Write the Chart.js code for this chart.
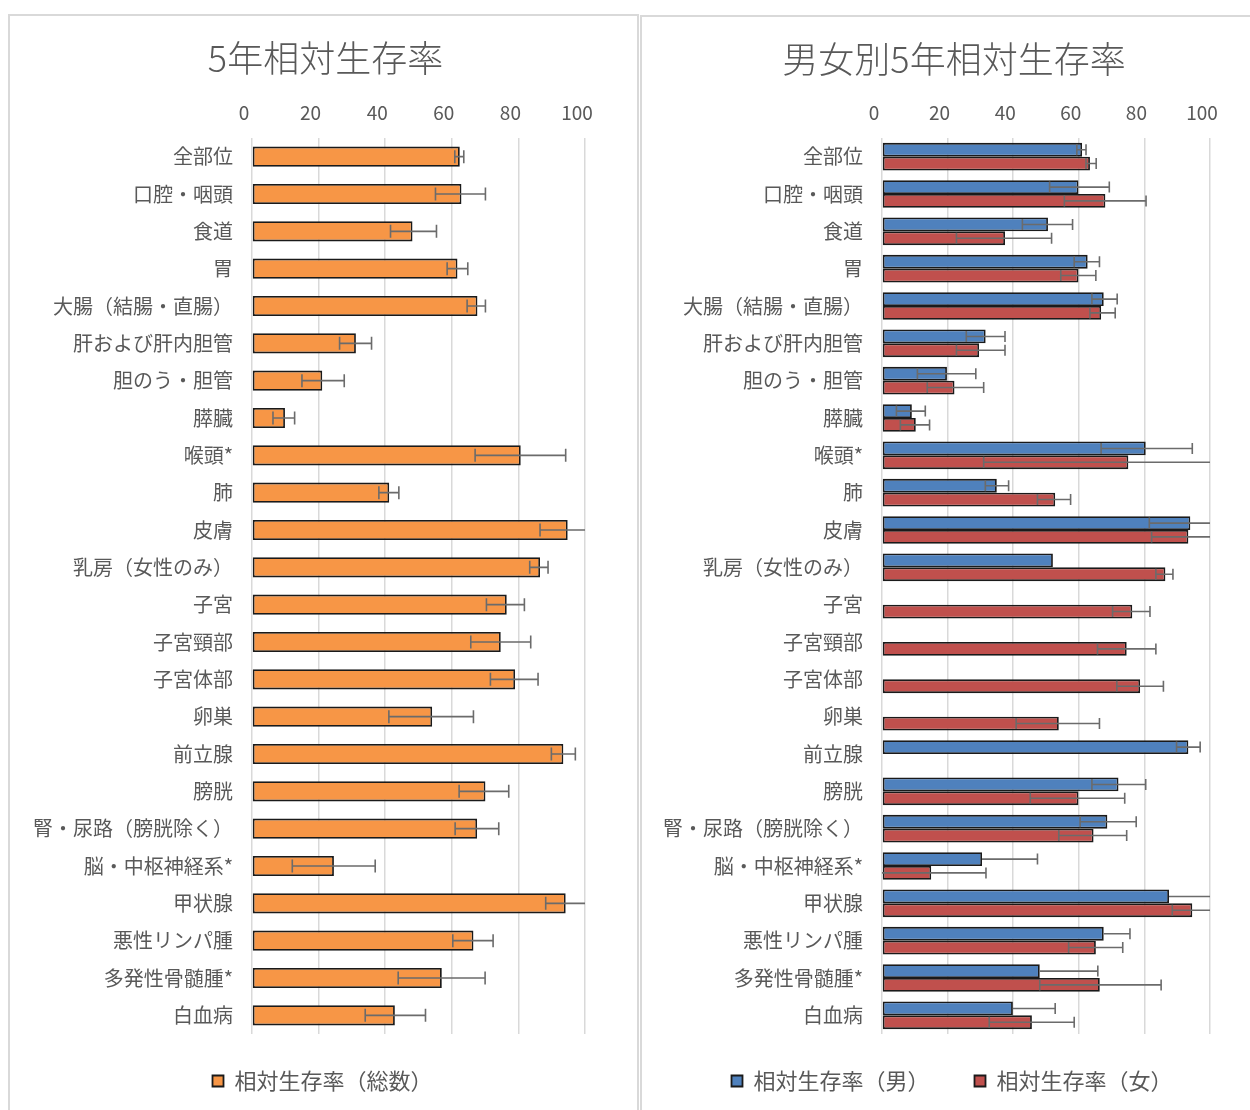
<!DOCTYPE html>
<html>
<head>
<meta charset="utf-8">
<script src="https://cdn.jsdelivr.net/npm/chart.js@4"></script>
<style>
  html, body { margin: 0; padding: 0; background: #fff; }
  body { width: 1250px; height: 1110px; overflow: hidden; position: relative; }
  .panel { position: absolute; border: 2px solid #d9d9d9; background: #fff; }
  #p1 { left: 8px; top: 14px; width: 627px; height: 1100px; }
  #p2 { left: 640px; top: 15px; width: 620px; height: 1100px; }
  canvas { display: block; }
</style>
</head>
<body>
<div class="panel" id="p1"><canvas id="totalChart" width="627" height="1095"></canvas></div>
<div class="panel" id="p2"><canvas id="sexChart" width="608" height="1094"></canvas></div>
<script>
const sites = ['全部位', '口腔・咽頭', '食道', '胃', '大腸（結腸・直腸）', '肝および肝内胆管', '胆のう・胆管', '膵臓',
  '喉頭*', '肺', '皮膚', '乳房（女性のみ）', '子宮', '子宮頸部', '子宮体部', '卵巣', '前立腺', '膀胱',
  '腎・尿路（膀胱除く）', '脳・中枢神経系*', '甲状腺', '悪性リンパ腫', '多発性骨髄腫*', '白血病'];

// 5年相対生存率（総数）と信頼区間
const total     = [62.4, 62.9, 48.2, 61.7, 67.7, 31.2, 21.1, 9.9, 80.7, 41.2, 94.8, 86.5, 76.5, 74.7, 79.0, 54.1, 93.5, 70.1, 67.6, 24.6, 94.2, 66.5, 57.0, 42.9];
const totalLow  = [60.9, 55.1, 41.6, 58.6, 64.6, 26.3, 15.0, 6.3, 67.0, 38.1, 86.5, 83.4, 70.4, 65.7, 71.6, 41.1, 89.9, 62.2, 61.0, 12.1, 88.2, 60.3, 43.9, 34.0];
const totalHigh = [63.6, 70.1, 55.4, 64.8, 70.1, 35.9, 27.7, 12.8, 94.2, 44.1, 103, 88.9, 81.8, 83.7, 85.9, 66.5, 97.1, 77.1, 74.1, 37.0, 103, 72.4, 70.0, 52.1];

// 男
const male     = [61.0, 59.9, 50.6, 62.7, 67.6, 31.6, 19.8, 9.1, 80.4, 35.0, 94.0, 52.1, null, null, null, null, 93.4, 72.1, 68.7, 30.5, 87.5, 67.6, 48.1, 39.9];
const maleLow  = [59.4, 51.1, 42.8, 58.6, 64.0, 25.7, 10.8, 4.4, 66.8, 31.5, 81.5, null, null, null, null, null, 89.8, 64.0, 60.4, null, null, null, null, null];
const maleHigh = [62.2, 69.3, 58.1, 66.3, 71.7, 37.5, 28.6, 13.2, 94.6, 38.6, 103, null, null, null, null, null, 97.0, 80.4, 77.5, 47.4, 103, 75.6, 65.8, 52.8];

// 女
const female     = [63.4, 68.1, 37.5, 59.9, 66.8, 29.6, 22.1, 10.3, 75.1, 52.8, 93.4, 86.4, 76.3, 74.6, 78.7, 53.9, null, 59.9, 64.5, 15.0, 94.6, 65.2, 66.4, 45.7];
const femaleLow  = [62.2, 55.6, 22.7, 54.5, 63.4, 22.7, 13.8, 5.6, 31.0, 47.4, 82.2, 83.5, 70.3, 65.7, 71.6, 40.9, null, 45.2, 53.9, -3, 88.5, 56.9, 48.1, 32.7];
const femaleHigh = [65.3, 80.5, 51.7, 65.2, 71.1, 37.5, 31.0, 14.5, 103, 57.5, 103, 88.7, 81.7, 83.5, 85.8, 66.3, null, 74.0, 74.6, 31.7, 103, 73.4, 85.1, 58.6];

const xTicks = [0, 20, 40, 60, 80, 100];

Chart.defaults.font.family = "'Noto Sans CJK JP', 'Noto Sans', sans-serif";
Chart.defaults.color = '#595959';

// error bars drawn from errLow / errHigh arrays on each dataset
const errorBars = {
    id: 'errorBars',
    afterDatasetsDraw(chart, args, opts) {
        const {ctx, chartArea} = chart;
        const xs = chart.scales.x;
        const half = opts.cap / 2;
        ctx.save();
        ctx.beginPath();
        ctx.rect(chartArea.left, chartArea.top, chartArea.width, chartArea.height);
        ctx.clip();
        ctx.strokeStyle = '#6b6b6b';
        ctx.lineWidth = 1.6;
        chart.data.datasets.forEach((ds, di) => {
            const meta = chart.getDatasetMeta(di);
            meta.data.forEach((bar, i) => {
                const v = ds.data[i];
                if (v == null) return;
                const lo = ds.errLow[i], hi = ds.errHigh[i];
                if (lo == null && hi == null) return;
                const y = bar.y;
                const xv = xs.getPixelForValue(v);
                const a = lo != null ? xs.getPixelForValue(lo) : xv;
                const b = hi != null ? xs.getPixelForValue(hi) : xv;
                ctx.beginPath();
                ctx.moveTo(a, y);
                ctx.lineTo(b, y);
                if (lo != null) { ctx.moveTo(a, y - half); ctx.lineTo(a, y + half); }
                if (hi != null) { ctx.moveTo(b, y - half); ctx.lineTo(b, y + half); }
                ctx.stroke();
            });
        });
        ctx.restore();
    }
};

// nudge the legend and title boxes after layout
const boxShift = {
    id: 'boxShift',
    afterLayout(chart, args, opts) {
        const lg = chart.legend;
        lg.left += opts.dx; lg.right += opts.dx;
        lg.top += opts.dy; lg.bottom += opts.dy;
        const tb = chart.titleBlock;
        tb.left += opts.titleDx; tb.right += opts.titleDx;
    }
};

function makeOptions(titleText, titleSize, yWidth, xHeight, padRight, cap, dx, dy, titleDx) {
    return {
        responsive: false,
        animation: false,
        indexAxis: 'y',
        layout: { padding: { left: 0, right: padRight, top: 0, bottom: 0 } },
        scales: {
            x: {
                position: 'top',
                min: 0, max: 100,
                afterBuildTicks: s => { s.ticks = xTicks.map(v => ({ value: v })); },
                afterFit: s => { s.height = xHeight; },
                grid: { color: '#d9d9d9', lineWidth: 1.5, drawTicks: false },
                border: { display: false },
                ticks: { padding: 14, labelOffset: -8, font: { size: 19 }, color: '#595959' }
            },
            y: {
                afterFit: s => { s.width = yWidth; },
                grid: { display: false, drawTicks: false },
                border: { display: false },
                ticks: { padding: 19, font: { size: 20 }, color: '#595959', autoSkip: false }
            }
        },
        plugins: {
            title: {
                display: true, text: titleText, color: '#595959',
                font: { size: titleSize, weight: 300 },
                padding: { top: 21, bottom: 21 }
            },
            legend: {
                position: 'bottom',
                labels: { boxWidth: 11, boxHeight: 11, padding: 45, font: { size: 22 }, color: '#595959' }
            },
            tooltip: { enabled: false },
            errorBars: { cap: cap },
            boxShift: { dx: dx, dy: dy, titleDx: titleDx }
        }
    };
}

new Chart(document.getElementById('totalChart'), {
    type: 'bar',
    data: {
        labels: sites,
        datasets: [{
            label: '相対生存率（総数）',
            data: total,
            errLow: totalLow,
            errHigh: totalHigh,
            backgroundColor: '#F79646',
            borderColor: '#1a1a1a',
            borderWidth: 1.8,
            borderSkipped: false,
            categoryPercentage: 1,
            barPercentage: 0.54
        }]
    },
    options: makeOptions('5年相対生存率', 36, 242, 36.8, 52, 13, 25, -9, 28),
    plugins: [errorBars, boxShift]
});

new Chart(document.getElementById('sexChart'), {
    type: 'bar',
    data: {
        labels: sites,
        datasets: [{
            label: '相対生存率（男）',
            data: male,
            errLow: maleLow,
            errHigh: maleHigh,
            backgroundColor: '#4F81BD',
            borderColor: '#1a1a1a',
            borderWidth: 1.8,
            borderSkipped: false,
            categoryPercentage: 0.74,
            barPercentage: 1
        }, {
            label: '相対生存率（女）',
            data: female,
            errLow: femaleLow,
            errHigh: femaleHigh,
            backgroundColor: '#C0504D',
            borderColor: '#1a1a1a',
            borderWidth: 1.8,
            borderSkipped: false,
            categoryPercentage: 0.74,
            barPercentage: 1
        }]
    },
    options: makeOptions('男女別5年相対生存率', 36, 240, 35.8, 40, 11, 26, -9, 28),
    plugins: [errorBars, boxShift]
});
</script>
</body>
</html>
